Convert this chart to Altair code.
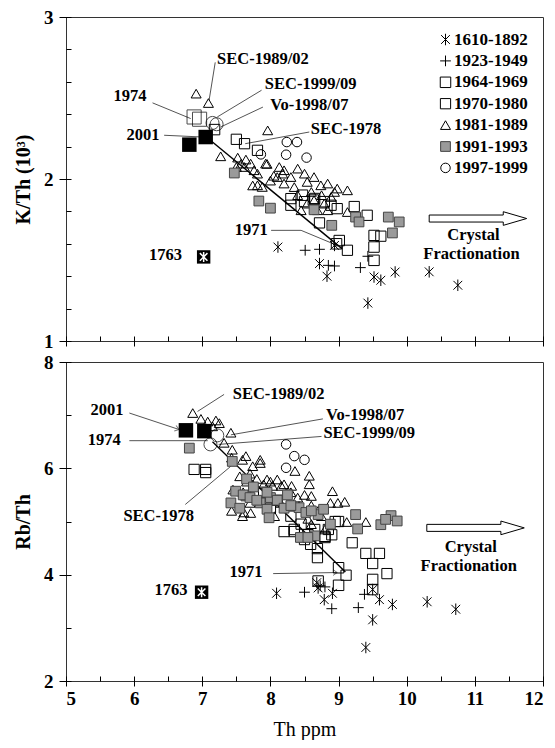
import altair as alt
import pandas as pd

SERIES = ["1610-1892", "1923-1949", "1964-1969", "1970-1980", "1981-1989", "1991-1993", "1997-1999"]

# ---------------- Top panel: K/Th (10^3) vs Th ----------------
t1_th = [8.11, 8.72, 8.83, 8.94, 9.43, 9.52, 9.62, 9.83, 10.33, 10.75]
t1_k = [1.58, 1.478, 1.40, 1.59, 1.234, 1.395, 1.375, 1.426, 1.427, 1.344]
t2_th = [8.51, 8.72, 8.85, 8.94, 9.32, 9.43]
t2_k = [1.56, 1.566, 1.467, 1.463, 1.453, 1.523]
t3_th = [7.18, 9.01, 9.52, 9.52, 8.47, 8.63, 8.79, 8.97]
t3_k = [2.305, 1.62, 1.58, 1.498, 1.90, 1.87, 1.86, 1.60]
t4_th = [7.50, 7.62, 7.81, 8.30, 8.30, 8.50, 8.65, 8.89, 8.98, 9.23, 9.42, 8.72, 9.13, 9.52, 9.62]
t4_k = [2.245, 2.218, 2.177, 1.879, 1.838, 1.86, 1.88, 1.838, 1.817, 1.83, 1.776, 1.729, 1.56, 1.652, 1.647]
t5_th = [6.91, 7.09, 7.96, 7.27, 7.52, 7.64, 7.71, 7.62, 7.76, 7.93, 8.13, 8.20, 8.40, 8.50, 8.30,
         8.10, 8.20, 8.54, 8.64, 8.74, 8.84, 8.98, 9.13, 8.94, 8.89, 8.79, 8.64, 8.54, 8.45, 8.69,
         8.84, 9.13, 7.81, 7.88, 7.57, 7.50, 7.81, 8.18, 8.00, 8.35, 8.60, 8.75, 8.40, 7.95, 8.05, 7.74]
t5_k = [2.527, 2.469, 2.30, 2.14, 2.132, 2.12, 2.095, 2.074, 2.054, 2.095, 2.074, 2.054, 2.064, 2.033, 2.012,
        2.012, 1.972, 1.982, 2.012, 1.961, 1.972, 1.941, 1.93, 1.92, 1.889, 1.848, 1.869, 1.848, 1.807, 1.807,
        1.807, 1.796, 1.961, 1.951, 2.095, 2.074, 2.033, 2.033, 1.99, 1.95, 1.92, 1.90, 1.90, 2.093, 2.02, 1.96]
t6_th = [7.47, 7.83, 8.00, 8.64, 8.90, 9.25, 9.30, 9.73, 9.89, 9.79]
t6_k = [2.037, 1.864, 1.82, 1.81, 1.714, 1.765, 1.735, 1.765, 1.735, 1.667]
t7_th = [7.86, 8.24, 8.39, 8.23, 8.53]
t7_k = [2.152, 2.228, 2.228, 2.15, 2.132]

t_1974_th = [6.88, 6.96]
t_1974_k = [2.383, 2.369]
t_bigc_th = [7.15, 7.21]
t_bigc_k = [2.346, 2.338]
t_2001_th = [6.81, 7.05]
t_2001_k = [2.212, 2.259]
t_1763_th = [7.02]
t_1763_k = [1.519]

t_lead_seg = ["a", "a", "b", "b", "c", "c", "d", "d", "e", "e", "f", "f", "g", "g", "g"]
t_lead_th = [7.19, 7.10, 6.27, 6.83, 7.87, 7.22, 7.89, 7.27, 8.57, 7.63, 6.44, 6.96, 8.01, 8.45, 8.98]
t_lead_k = [2.72, 2.486, 2.47, 2.373, 2.548, 2.383, 2.444, 2.321, 2.29, 2.218, 2.27, 2.26, 1.683, 1.683, 1.59]
t_main_th = [7.10, 9.05]
t_main_k = [2.245, 1.57]

t_text = ["SEC-1989/02", "1974", "SEC-1999/09", "Vo-1998/07", "SEC-1978", "2001", "1971", "1763",
          "Crystal", "Fractionation"]
t_text_th = [7.89, 5.94, 8.59, 8.57, 9.11, 6.13, 7.72, 6.46, 10.98, 10.95]
t_text_k = [2.743, 2.51, 2.589, 2.455, 2.311, 2.27, 1.688, 1.529, 1.653, 1.535]
t_arrow_th = [11.045]
t_arrow_k = [1.756]

# ---------------- Bottom panel: Rb/Th vs Th ----------------
b1_th = [8.09, 8.68, 8.70, 8.79, 8.91, 9.40, 9.50, 9.50, 9.60, 9.79, 10.30, 10.72]
b1_rb = [3.65, 3.85, 3.75, 3.53, 3.65, 2.63, 3.15, 3.72, 3.53, 3.44, 3.49, 3.35]
b2_th = [8.50, 8.73, 8.80, 8.90, 9.29, 9.38]
b2_rb = [3.67, 3.79, 3.77, 3.36, 3.38, 3.63]
b3_th = [9.00, 9.00, 9.50, 9.50, 8.70, 8.35, 8.55, 8.80]
b3_rb = [4.13, 3.80, 3.91, 3.72, 3.88, 4.85, 4.75, 4.70]
b4_th = [6.88, 7.05, 7.05, 8.20, 8.35, 8.50, 8.59, 8.69, 8.69, 9.20, 9.40, 9.60, 9.50, 9.71, 9.11,
         8.00, 8.30, 8.45, 8.65, 8.85, 8.95, 8.80, 8.90, 9.00, 8.10, 7.90]
b4_rb = [5.98, 5.98, 5.92, 4.81, 4.81, 4.66, 4.57, 4.49, 4.32, 4.60, 4.40, 4.40, 4.21, 4.02, 3.99,
         5.25, 5.10, 4.95, 4.85, 4.85, 5.00, 4.72, 4.75, 5.00, 5.40, 5.55]
b5_th = [6.86, 6.98, 7.08, 7.15, 7.25, 7.42, 7.44, 7.32, 7.59, 7.85, 7.43, 7.64, 7.74, 7.85, 8.10,
         8.16, 8.36, 8.57, 8.57, 8.91, 8.60, 8.88, 8.99, 9.09, 9.12, 9.40, 7.43, 7.59, 7.61, 7.71,
         8.06, 8.42, 8.31, 7.95, 8.03, 7.55, 7.65, 7.70, 7.80, 7.90, 8.00, 8.20, 8.30, 8.40, 8.50,
         8.60, 8.70, 7.60, 7.70, 7.45, 8.15, 8.55, 8.75, 8.60, 8.80, 7.20]
b5_rb = [7.04, 6.93, 6.88, 6.79, 6.85, 6.67, 6.35, 6.48, 6.16, 6.16, 6.20, 6.23, 6.04, 6.10, 5.79,
         5.67, 5.95, 5.86, 5.70, 5.57, 5.48, 5.35, 5.35, 5.37, 4.99, 4.99, 5.20, 5.10, 5.17, 5.16,
         5.10, 5.29, 5.67, 5.79, 5.67, 5.85, 5.75, 5.90, 5.80, 5.70, 5.75, 5.70, 5.55, 5.45, 5.50,
         5.30, 5.20, 5.55, 5.35, 5.60, 5.35, 5.05, 5.10, 4.95, 4.85, 6.90]
b6_th = [6.81, 7.44, 7.42, 9.25, 9.28, 9.62, 9.77, 9.86, 9.69, 7.49, 7.64, 7.85, 7.95, 8.42, 8.52,
         8.70, 8.78, 8.88, 8.44, 8.65, 7.98, 7.60, 7.70, 7.80, 8.00, 8.10, 8.20, 8.30, 8.60, 7.65,
         7.75, 7.95, 8.25, 8.55, 7.55]
b6_rb = [6.38, 6.13, 5.35, 5.13, 4.86, 4.94, 5.11, 5.01, 5.04, 5.57, 5.48, 5.35, 5.23, 5.26, 5.17,
         5.13, 5.23, 4.95, 4.70, 4.73, 5.07, 5.50, 5.45, 5.40, 5.45, 5.40, 5.25, 5.30, 5.20, 5.80,
         5.65, 5.55, 5.50, 4.70, 5.25]
b7_th = [8.23, 8.35, 8.50, 8.23]
b7_rb = [6.45, 6.23, 6.16, 6.01]

b_bigc_th = [7.12, 7.22]
b_bigc_rb = [6.45, 6.62]
b_2001_th = [6.76, 7.03]
b_2001_rb = [6.715, 6.70]
b_1763_th = [6.99]
b_1763_rb = [3.67]

b_lead_seg = ["a", "a", "b", "b", "c", "c", "d", "d", "e", "e", "f", "f", "g", "g"]
b_lead_th = [7.32, 6.93, 5.93, 6.66, 8.77, 7.42, 5.93, 7.08, 8.75, 7.24, 6.75, 7.42, 8.04, 8.98]
b_lead_rb = [7.39, 7.07, 7.04, 6.73, 6.93, 6.63, 6.52, 6.52, 6.60, 6.45, 5.32, 6.04, 4.02, 4.04]
b_main_th = [7.15, 9.10]
b_main_rb = [6.50, 4.05]
b_head_th = [6.66, 8.98]
b_head_rb = [6.73, 4.04]
b_head_angle = [18, 0]

b_text = ["SEC-1989/02", "2001", "Vo-1998/07", "1974", "SEC-1999/09", "SEC-1978", "1971", "1763",
          "Crystal", "Fractionation"]
b_text_th = [8.12, 5.60, 9.39, 5.56, 9.45, 6.36, 7.64, 6.54, 10.94, 10.91]
b_text_rb = [7.39, 7.09, 7.01, 6.54, 6.66, 5.10, 4.05, 3.71, 4.52, 4.16]
b_arrow_th = [11.01]
b_arrow_rb = [4.88]

X_TICKS = [5, 5.5, 6, 6.5, 7, 7.5, 8, 8.5, 9, 9.5, 10, 10.5, 11, 11.5, 12]
K_TICKS = [1.0, 1.2, 1.4, 1.6, 1.8, 2.0, 2.2, 2.4, 2.6, 2.8, 3.0]
RB_TICKS = [2, 3, 4, 5, 6, 7, 8]

FONT = "Liberation Serif"
ASTER = "M-0.8,-0.8L0.8,0.8M-0.8,0.8L0.8,-0.8M0,-1.05L0,1.05"
PLUS = "M-1,0L1,0M0,-1L0,1"
ARROW = "M-1,-0.072L0.52,-0.072L0.52,-0.14L1,0L0.52,0.14L0.52,0.072L-1,0.072Z"
CHEV = "M-1,-0.7L0,0L-1,0.7"

W = 477
H_TOP = 324
H_BOT = 319


def series_df(pairs):
    rows = []
    for name, xs, ys in pairs:
        for a, b in zip(xs, ys):
            rows.append({"series": name, "th": a, "v": b})
    return pd.DataFrame(rows)


def xy_df(xs, ys, **extra):
    d = pd.DataFrame({"th": xs, "v": ys})
    for k, val in extra.items():
        d[k] = val
    return d


INT_TEST = "abs(datum.value - round(datum.value)) < 0.01"


def x_enc(show_labels):
    sc = alt.Scale(domain=[5, 12], nice=False, zero=False)
    ts = {"condition": {"test": INT_TEST, "value": 10}, "value": 5}
    if show_labels:
        ax = alt.Axis(values=X_TICKS, labelExpr="(" + INT_TEST + ") ? format(datum.value, '.0f') : ''",
                      tickSize=ts, offset=-5, domain=False, labelPadding=3, titlePadding=11,
                      titleFontWeight="normal", titleFontSize=20)
        return alt.X("th:Q", scale=sc, axis=ax, title="Th ppm")
    ax = alt.Axis(values=X_TICKS, labels=False, tickSize=ts, offset=-5, domain=False)
    return alt.X("th:Q", scale=sc, axis=ax, title=None)


def y_enc(domain, ticks, test, title):
    ax = alt.Axis(values=ticks, labelExpr="(" + test + ") ? format(datum.value, '.0f') : ''",
                  tickSize={"condition": {"test": test, "value": 12}, "value": 5},
                  offset=-5, domain=False, labelPadding=6, titlePadding=10)
    return alt.Y("v:Q", scale=alt.Scale(domain=domain, nice=False, zero=False), axis=ax, title=title)


def panel(df_pts, lead, main, big_c, sq2001, pt1763, texts, arrow, heads, extra_sq, domain, ticks, test,
          title, show_x, height, show_legend):
    X = x_enc(show_x)
    Y = y_enc(domain, ticks, test, title)
    if show_legend:
        leg = alt.Legend(title=None, orient="none", legendX=371, legendY=14, padding=0,
                         labelFont=FONT, labelFontSize=17, labelFontWeight="bold", labelColor="black",
                         labelOffset=0, rowPadding=3.4, symbolStrokeWidth=1)
    else:
        leg = None
    layers = []
    layers.append(alt.Chart(lead).mark_line(color="#555", strokeWidth=1).encode(
        x=X, y=Y, detail="seg:N", order="i:Q"))
    layers.append(alt.Chart(main).mark_line(color="black", strokeWidth=1.4).encode(x=X, y=Y))
    if heads is not None:
        layers.append(alt.Chart(heads).mark_point(shape=CHEV, filled=False, color="#444", size=70,
                                                  strokeWidth=1).encode(x=X, y=Y, angle=alt.Angle("ang:Q", scale=None)))
    layers.append(alt.Chart(df_pts).mark_point(filled=True, strokeWidth=1, opacity=1).encode(
        x=X, y=Y,
        shape=alt.Shape("series:N", sort=SERIES, legend=leg,
                        scale=alt.Scale(domain=SERIES, range=[ASTER, PLUS, "square", "square", "triangle-up", "square", "circle"])),
        fill=alt.Fill("series:N", sort=SERIES, legend=leg,
                      scale=alt.Scale(domain=SERIES, range=["transparent"] * 5 + ["#9a9a9a", "transparent"])),
        stroke=alt.Stroke("series:N", sort=SERIES, legend=leg,
                          scale=alt.Scale(domain=SERIES, range=["#000"] * 5 + ["#444", "#000"])),
        size=alt.Size("series:N", sort=SERIES, legend=leg,
                      scale=alt.Scale(domain=SERIES, range=[120, 90, 45, 100, 115, 45, 75])),
    ))
    if extra_sq is not None:
        layers.append(alt.Chart(extra_sq).mark_point(shape="square", filled=False, color="black", size=200,
                                                     strokeWidth=1).encode(x=X, y=Y))
    layers.append(alt.Chart(big_c).mark_point(shape="circle", filled=False, color="black", size=170,
                                              strokeWidth=1).encode(x=X, y=Y))
    layers.append(alt.Chart(sq2001).mark_point(shape="square", filled=True, color="black", size=210,
                                               opacity=1).encode(x=X, y=Y))
    layers.append(alt.Chart(pt1763).mark_point(shape="square", filled=True, color="black", size=180,
                                               opacity=1).encode(x=X, y=Y))
    layers.append(alt.Chart(pt1763).mark_point(shape=ASTER, filled=False, color="white", size=90,
                                               strokeWidth=1.5, opacity=1).encode(x=X, y=Y))
    layers.append(alt.Chart(arrow).mark_point(shape=ARROW, filled=True, fill="white", stroke="black",
                                              strokeWidth=1, size=9500, opacity=1).encode(x=X, y=Y))
    layers.append(alt.Chart(texts).mark_text(font=FONT, fontSize=16.5, fontWeight="bold", color="black",
                                             align="center", baseline="middle").encode(x=X, y=Y, text="label:N"))
    return alt.layer(*layers).properties(width=W, height=height)


top_pts = series_df([(SERIES[0], t1_th, t1_k), (SERIES[1], t2_th, t2_k), (SERIES[2], t3_th, t3_k),
                     (SERIES[3], t4_th, t4_k), (SERIES[4], t5_th, t5_k), (SERIES[5], t6_th, t6_k),
                     (SERIES[6], t7_th, t7_k)])
bot_pts = series_df([(SERIES[0], b1_th, b1_rb), (SERIES[1], b2_th, b2_rb), (SERIES[2], b3_th, b3_rb),
                     (SERIES[3], b4_th, b4_rb), (SERIES[4], b5_th, b5_rb), (SERIES[5], b6_th, b6_rb),
                     (SERIES[6], b7_th, b7_rb)])

t_lead = xy_df(t_lead_th, t_lead_k, seg=t_lead_seg, i=list(range(len(t_lead_th))))
b_lead = xy_df(b_lead_th, b_lead_rb, seg=b_lead_seg, i=list(range(len(b_lead_th))))

top = panel(top_pts, t_lead, xy_df(t_main_th, t_main_k), xy_df(t_bigc_th, t_bigc_k),
            xy_df(t_2001_th, t_2001_k), xy_df(t_1763_th, t_1763_k),
            xy_df(t_text_th, t_text_k, label=t_text), xy_df(t_arrow_th, t_arrow_k), None,
            xy_df(t_1974_th, t_1974_k), [1, 3], K_TICKS, INT_TEST, "K/Th  (10³)", False, H_TOP, True)

bottom = panel(bot_pts, b_lead, xy_df(b_main_th, b_main_rb), xy_df(b_bigc_th, b_bigc_rb),
               xy_df(b_2001_th, b_2001_rb), xy_df(b_1763_th, b_1763_rb),
               xy_df(b_text_th, b_text_rb, label=b_text), xy_df(b_arrow_th, b_arrow_rb),
               xy_df(b_head_th, b_head_rb, ang=b_head_angle), None,
               [2, 8], RB_TICKS, "datum.value % 2 === 0", "Rb/Th", True, H_BOT, False)

chart = alt.vconcat(top, bottom, spacing=21, bounds="flush").resolve_scale(
    shape="independent", fill="independent", stroke="independent", size="independent"
).properties(
    padding={"left": 5, "top": -1, "right": 0, "bottom": 0}, background="white"
).configure_view(stroke="#333", strokeWidth=1).configure_axis(
    labelFont=FONT, labelFontSize=19, labelFontWeight="bold", labelColor="black",
    titleFont=FONT, titleFontSize=20, titleFontWeight="bold", titleColor="black",
    tickColor="black", tickWidth=1, grid=False
)

chart.save("out.html", embed_options={"renderer": "svg", "actions": False})
